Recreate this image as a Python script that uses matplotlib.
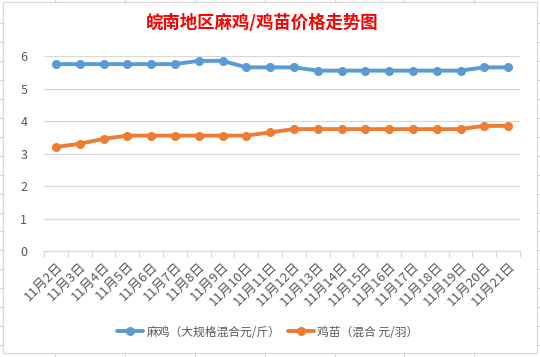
import matplotlib.pyplot as plt
import numpy as np
from matplotlib.lines import Line2D

plt.rcParams['font.family'] = ['Noto Sans CJK SC', 'DejaVu Sans']

# ------------------------------------------------------------
# Data
# ------------------------------------------------------------
dates = [f"11月{d}日" for d in range(2, 22)]
maji = [5.75, 5.75, 5.75, 5.75, 5.75, 5.75, 5.85, 5.85, 5.65, 5.65,
        5.65, 5.55, 5.55, 5.55, 5.55, 5.55, 5.55, 5.55, 5.65, 5.65]
jimiao = [3.2, 3.3, 3.45, 3.55, 3.55, 3.55, 3.55, 3.55, 3.55, 3.65,
          3.75, 3.75, 3.75, 3.75, 3.75, 3.75, 3.75, 3.75, 3.85, 3.85]
yticks = [0, 1, 2, 3, 4, 5, 6]

W, H = 540, 357
fig = plt.figure(figsize=(W / 100, H / 100), dpi=100)

# spreadsheet cell lines peeking out around the chart frame
for x in [55, 125, 195, 265, 335, 404, 474]:
    fig.add_artist(Line2D([x / W, x / W], [1, 1 - 2 / H], color="#d4d4d4", lw=0.8))
    fig.add_artist(Line2D([x / W, x / W], [0, 4 / H], color="#d4d4d4", lw=0.8))
for y in np.arange(23, 350, 18.95):
    fig.add_artist(Line2D([0, 3 / W], [1 - y / H, 1 - y / H], color="#d4d4d4", lw=0.8))
    fig.add_artist(Line2D([1 - 3 / W, 1], [1 - y / H, 1 - y / H], color="#d4d4d4", lw=0.8))

# chart frame
fig.add_artist(plt.Rectangle((3 / W, 4 / H), 534 / W, 351 / H, fill=False,
                             edgecolor="#d9d9d9", lw=0.9))

# ------------------------------------------------------------
# Plot area
# ------------------------------------------------------------
ax = fig.add_axes([44 / W, (H - 251) / H, 476 / W, 195 / H])
x = np.arange(len(dates))
ax.plot(x, maji, color="#5B9BD5", lw=2.8, marker="o", ms=5.5,
        label="麻鸡（大规格混合元/斤）", solid_capstyle="round")
ax.plot(x, jimiao, color="#ED7D31", lw=2.8, marker="o", ms=5.5,
        label="鸡苗（混合 元/羽）", solid_capstyle="round")

ax.set_xlim(-0.5, len(dates) - 0.5)
ax.set_ylim(0, 6)
ax.set_yticks(yticks)
ax.grid(axis="y", color="#d9d9d9", lw=0.9)
ax.set_axisbelow(True)
for s in ["top", "right", "left"]:
    ax.spines[s].set_visible(False)
ax.spines["bottom"].set_color("#d9d9d9")
ax.spines["bottom"].set_linewidth(0.9)

ax.tick_params(axis="y", length=0, labelsize=9, labelcolor="#595959", pad=12)
ax.set_xticks(x)
ax.set_xticklabels(dates, rotation=45, ha="right", va="top",
                   rotation_mode="anchor", fontsize=9.5, color="#595959")
ax.tick_params(axis="x", which="major", length=0, pad=6)
ax.set_xticks(np.arange(-0.5, len(dates), 1), minor=True)
ax.tick_params(axis="x", which="minor", length=4, color="#d9d9d9", width=0.9)

fig.text(262 / W, 1 - 23 / H, "皖南地区麻鸡/鸡苗价格走势图", color="red",
         fontsize=12.5, fontweight="bold", ha="center", va="center")

fig.legend(loc="center", bbox_to_anchor=(268 / W, 1 - 332 / H), ncol=2,
           frameon=False, fontsize=8.5, labelcolor="#595959",
           handlelength=2.2, columnspacing=0.6, handletextpad=0.3)

fig.savefig("out.png", dpi=100)
